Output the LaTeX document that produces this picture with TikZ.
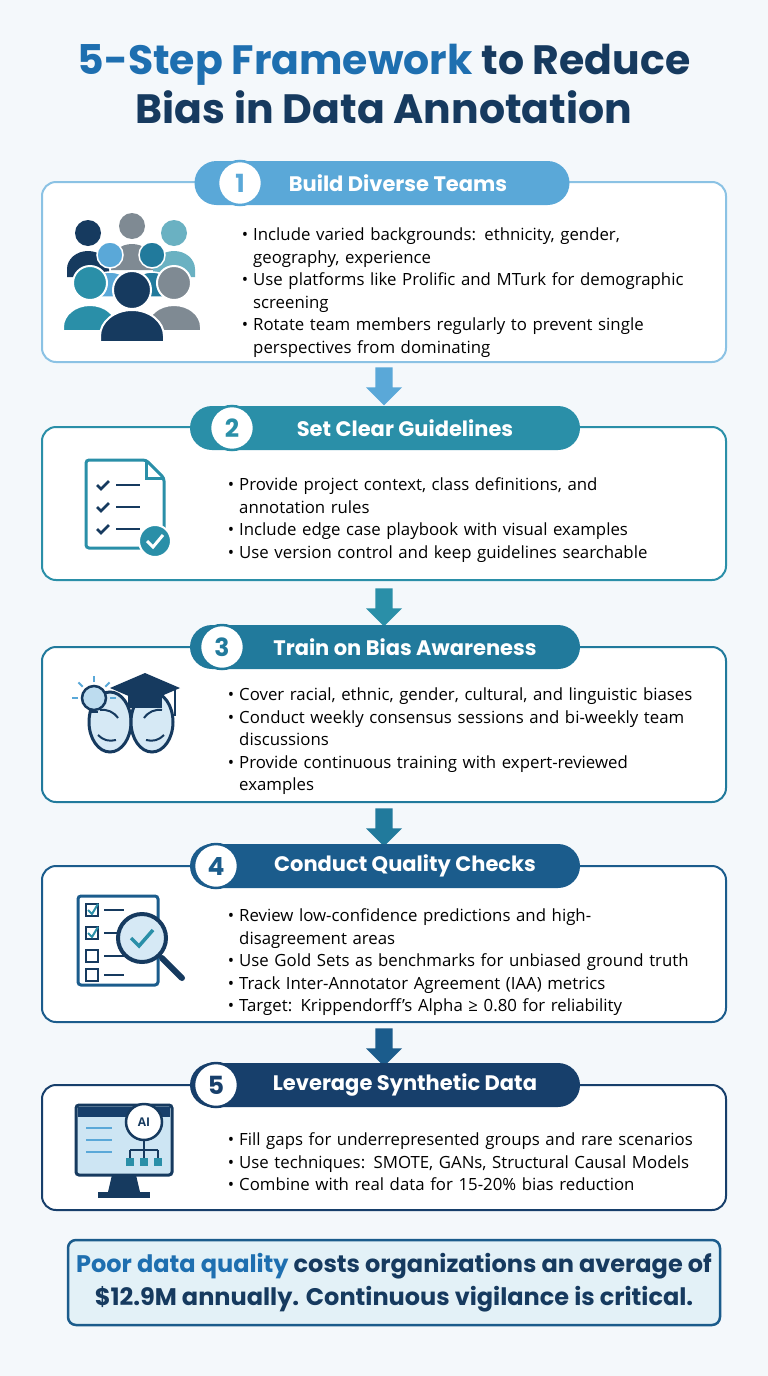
\documentclass[tikz,border=0pt]{standalone}
\usepackage{fontspec}
\setmainfont{Open Sans}
\newfontfamily\headfont{Poppins}
\usepackage{enumitem}
\usetikzlibrary{shapes.arrows,positioning}
\definecolor{titleblue}{HTML}{1E6FB0}
\definecolor{navy}{HTML}{163A5F}
\definecolor{bgpage}{HTML}{F4F8FB}
\definecolor{stepA}{HTML}{5AA8D8}
\definecolor{stepB}{HTML}{2A8FA8}
\definecolor{stepC}{HTML}{217A9C}
\definecolor{stepD}{HTML}{1B5C8C}
\definecolor{stepE}{HTML}{173F6B}
\definecolor{icongrey}{HTML}{7F8A93}
\definecolor{noteback}{HTML}{E3F1F7}
\newcommand{\bulletlist}[1]{\begin{itemize}[leftmargin=13pt,itemsep=0pt,topsep=0pt,parsep=0pt,label=\textbullet]#1\end{itemize}}
\tikzset{
  card/.style={draw=#1,line width=2pt,rounded corners=14pt,fill=white},
  pill/.style={fill=#1,rounded corners=22pt,minimum height=44pt,text=white,font=\headfont\bfseries\fontsize{21}{24}\selectfont},
  numdot/.style={circle,fill=white,draw=#1,line width=2.5pt,minimum size=44pt,text=#1,font=\headfont\bfseries\fontsize{25}{28}\selectfont},
  bullets/.style={anchor=north west,text width=#1,align=left,inner sep=0pt,text=black,font=\fontsize{16.8}{22.5}\selectfont},
  downarrow/.style={single arrow,fill=#1,draw=none,rotate=270,minimum height=38pt,minimum width=36pt,single arrow head extend=9pt,inner xsep=0pt,inner ysep=8pt},
}
\begin{document}
\begin{tikzpicture}[x=1pt,y=-1pt]
\fill[bgpage] (0,0) rectangle (768,1376);
\useasboundingbox (0,0) rectangle (768,1376);
% title
\node[font=\headfont\bfseries\fontsize{41}{49}\selectfont,align=center,text=navy] (title) at (384,84)
  {\textcolor{titleblue}{5-Step Framework} to Reduce\\Bias in Data Annotation};
% cards
\draw[card=stepA!70] (42,182) rectangle (726,362);
\draw[card=stepB] (42,427) rectangle (726,580);
\draw[card=stepC] (42,647) rectangle (726,802);
\draw[card=stepD] (42,866) rectangle (726,1022);
\draw[card=stepE] (42,1085) rectangle (726,1210);
% arrows
\node[downarrow=stepA] (arA) at (384,382) {};
\node[downarrow=stepB] (arB) at (384,603) {};
\node[downarrow=stepC] (arC) at (384,823) {};
\node[downarrow=stepD] (arD) at (384,1043) {};
% headers
\node[pill=stepA,minimum width=375pt] (pillA) at (382,183) {\hspace*{32pt}Build Diverse Teams};
\node[numdot=stepA] (numA) at (240,183) {1};
\node[pill=stepB,minimum width=390pt] (pillB) at (385,428) {\hspace*{40pt}Set Clear Guidelines};
\node[numdot=stepB] (numB) at (232,428) {2};
\node[pill=stepC,minimum width=390pt] (pillC) at (385,647) {\hspace*{40pt}Train on Bias Awareness};
\node[numdot=stepC] (numC) at (222,647) {3};
\node[pill=stepD,minimum width=390pt] (pillD) at (385,866) {\hspace*{40pt}Conduct Quality Checks};
\node[numdot=stepD] (numD) at (216,866) {4};
\node[pill=stepE,minimum width=390pt] (pillE) at (385,1085) {\hspace*{40pt}Leverage Synthetic Data};
\node[numdot=stepE] (numE) at (216,1085) {5};
% bullets
\node[bullets=445pt] (listA) at (240,218) {\bulletlist{
  \item Include varied backgrounds: ethnicity, gender, geography, experience
  \item Use platforms like Prolific and MTurk for demographic screening
  \item Rotate team members regularly to prevent single perspectives from dominating}};
\node[bullets=430pt] (listB) at (226,468) {\bulletlist{
  \item Provide project context, class definitions, and annotation rules
  \item Include edge case playbook with visual examples
  \item Use version control and keep guidelines searchable}};
\node[bullets=472pt] (listC) at (226,678) {\bulletlist{
  \item Cover racial, ethnic, gender, cultural, and linguistic biases
  \item Conduct weekly consensus sessions and bi-weekly team discussions
  \item Provide continuous training with expert-reviewed examples}};
\node[bullets=490pt] (listD) at (226,899) {\bulletlist{
  \item Review low-confidence predictions and high-\newline disagreement areas
  \item Use Gold Sets as benchmarks for unbiased ground truth
  \item Track Inter-Annotator Agreement (IAA) metrics
  \item Target: Krippendorff’s Alpha ≥ 0.80 for reliability}};
\node[bullets=495pt] (listE) at (226,1123) {\bulletlist{
  \item Fill gaps for underrepresented groups and rare scenarios
  \item Use techniques: SMOTE, GANs, Structural Causal Models
  \item Combine with real data for 15-20\% bias reduction}};
% icon 1: people
\foreach \x/\y/\c in {88/233/navy,132/226/icongrey,174/233/stepB!70}
  {\fill[\c] (\x,\y) circle (13); \fill[\c] (\x-21,\y+44) -- (\x-21,\y+36) arc (180:360:21 and 18) -- (\x+21,\y+44) -- cycle;}
\foreach \x/\y/\c in {110/255/stepA,152/255/stepC}
  {\fill[\c,draw=white,line width=1.5pt] (\x,\y) circle (13); \fill[\c,draw=white,line width=1.5pt] (\x-21,\y+42) -- (\x-21,\y+34) arc (180:360:21 and 17) -- (\x+21,\y+42) -- cycle;}
\foreach \x/\y/\c in {90/283/stepB,174/283/icongrey}
  {\fill[\c,draw=white,line width=2pt] (\x,\y) circle (17); \fill[\c,draw=white,line width=2pt] (\x-27,\y+48) -- (\x-27,\y+44) arc (180:360:27 and 22) -- (\x+27,\y+48) -- cycle;}
\fill[navy,draw=white,line width=2pt] (132,290) circle (19);
\fill[navy,draw=white,line width=2pt] (100,342) -- (100,336) arc (180:360:32 and 26) -- (164,342) -- cycle;
% icon 2: document with checks
\draw[stepB,line width=3pt,fill=white,rounded corners=3pt] (86,460) -- (146,460) -- (164,478) -- (164,548) -- (86,548) -- cycle;
\draw[stepB,line width=3pt] (146,460) -- (146,478) -- (164,478);
\foreach \y in {485,507,529}
  {\draw[navy,line width=2.5pt] (97,\y) -- (101,\y+4) -- (109,\y-4);
   \draw[navy,line width=2.5pt] (116,\y) -- (140,\y);}
\fill[stepB,draw=white,line width=2pt] (155,541) circle (16);
\draw[white,line width=3pt] (147,541) -- (153,547) -- (163,535);
% icon 3: brain, bulb, cap
\draw[navy,line width=3pt,fill=stepA!25] (110,722) ellipse (21 and 30);
\draw[navy,line width=3pt,fill=stepA!25] (152,722) ellipse (21 and 30);
\draw[navy,line width=2pt] (100,710) to[bend left] (118,718) (98,735) to[bend right] (116,740) (162,710) to[bend right] (144,718) (164,735) to[bend left] (146,740);
\draw[navy,line width=2.5pt,fill=stepA!40] (94,698) circle (12);
\draw[navy,line width=2.5pt] (90,712) -- (98,712);
\foreach \a in {270,225,315,180,0} \draw[stepA,line width=2pt] (94,698) ++(\a:16) -- ++(\a:6);
\fill[navy] (145,673) -- (180,688) -- (145,703) -- (110,688) -- cycle;
\fill[navy] (128,695) rectangle (162,708);
\draw[navy,line width=2pt] (175,690) -- (175,716);
% icon 4: checklist with magnifier
\draw[stepD,line width=3pt,fill=white,rounded corners=3pt] (78,896) rectangle (158,985);
\foreach \y in {910,933,956,975}
  {\draw[navy,line width=2pt] (86,\y-6) rectangle (98,\y+6); \draw[navy,line width=2.5pt] (104,\y) -- (124,\y);}
\foreach \y in {910,933} \draw[stepB,line width=2pt] (88,\y) -- (92,\y+4) -- (98,\y-6);
\draw[navy,line width=6pt,line cap=round] (162,958) -- (182,978);
\draw[navy,line width=4pt,fill=stepA!25] (142,938) circle (24);
\draw[stepB,line width=3.5pt] (131,938) -- (139,946) -- (153,930);
% icon 5: monitor with AI
\draw[navy,line width=3pt,fill=stepA!30,rounded corners=3pt] (76,1105) rectangle (172,1175);
\fill[stepE] (78,1107) rectangle (170,1117);
\foreach \y in {1128,1140,1152} \draw[stepA,line width=2pt] (86,\y) -- (112,\y);
\fill[navy] (112,1175) -- (136,1175) -- (140,1192) -- (108,1192) -- cycle;
\fill[navy] (98,1192) rectangle (150,1198);
\draw[navy,line width=2.5pt,fill=white] (144,1122) circle (18);
\node[font=\bfseries\fontsize{12}{12}\selectfont,text=navy] (ailabel) at (144,1122) {AI};
\draw[navy,line width=2pt] (144,1140) -- (144,1150) (130,1150) -- (158,1150) (130,1150) -- (130,1158) (144,1150) -- (144,1158) (158,1150) -- (158,1158);
\foreach \x in {130,144,158} \fill[stepB] (\x-4,1158) rectangle (\x+4,1166);
% note
\draw[stepD,line width=2.5pt,fill=noteback,rounded corners=8pt] (68,1240) rectangle (720,1325);
\node[font=\headfont\bfseries\fontsize{24}{33}\selectfont,align=center,text=navy] (note) at (394,1283)
  {\textcolor{titleblue}{Poor data quality} costs organizations an average of\\\$12.9M annually. Continuous vigilance is critical.};
\end{tikzpicture}
\end{document}
